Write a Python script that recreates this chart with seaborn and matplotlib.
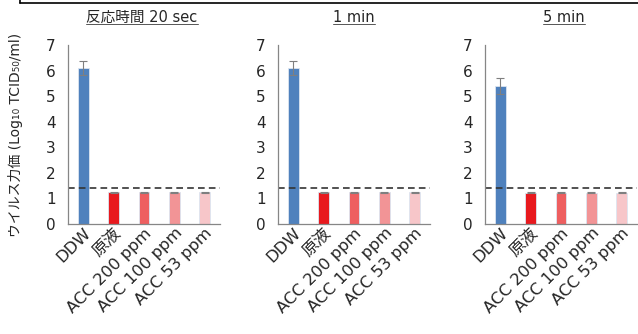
import numpy as np
import pandas as pd
import matplotlib
matplotlib.use("Agg")
import matplotlib.pyplot as plt
import seaborn as sns
from matplotlib.lines import Line2D

# data
categories = ["DDW", "原液", "ACC 200 ppm", "ACC 100 ppm", "ACC 53 ppm"]
titles = ["反応時間 20 sec", "1 min", "5 min"]
values_20sec = [6.1, 1.25, 1.25, 1.25, 1.25]
values_1min = [6.1, 1.25, 1.25, 1.25, 1.25]
values_5min = [5.4, 1.23, 1.23, 1.23, 1.23]
errors_20sec = [0.28, 0.02, 0.02, 0.02, 0.02]
errors_1min = [0.28, 0.02, 0.02, 0.02, 0.02]
errors_5min = [0.30, 0.02, 0.02, 0.02, 0.02]
detection_limit = 1.42
bar_colors = ["#4F81BD", "#E8191E", "#EE5F60", "#F29496", "#F7C6C9"]

sns.set_style("white")
plt.rcParams["font.family"] = ["DejaVu Sans", "Noto Sans CJK JP"]

fig = plt.figure(figsize=(6.38, 3.34), dpi=100)
lefts = [68 / 638, 278 / 638, 485 / 638]
all_values = [values_20sec, values_1min, values_5min]
all_errors = [errors_20sec, errors_1min, errors_5min]
axes = []
for i in range(3):
    ax = fig.add_axes([lefts[i], 1 - 224 / 334, 152 / 638, (224 - 45) / 334])
    df = pd.DataFrame({"cat": categories, "val": all_values[i]})
    sns.barplot(data=df, x="cat", y="val", hue="cat", palette=bar_colors, saturation=1,
                width=0.36, ax=ax, legend=False, edgecolor="#dbe5f1", linewidth=0.6)
    ax.errorbar(np.arange(len(categories)), all_values[i], yerr=all_errors[i],
                fmt="none", ecolor="#7f7f7f", elinewidth=0.8, capsize=3, capthick=0.8)
    ax.axhline(detection_limit, color="#333333", linestyle=(0, (4, 2.5)), linewidth=1.2)
    ax.set_ylim(0, 7)
    ax.set_xlim(-0.5, 4.5)
    ax.set_yticks(range(8))
    ax.set_xlabel("")
    ax.set_ylabel("")
    ax.tick_params(axis="y", labelsize=11, length=3, width=0.8, color="#868686", pad=6)
    ax.tick_params(axis="x", labelsize=11.8, length=0, pad=1)
    ax.set_xticks(range(len(categories)))
    ax.set_xticklabels(categories, rotation=45, ha="right", rotation_mode="anchor")
    for s in ["top", "right"]:
        ax.spines[s].set_visible(False)
    for s in ["left", "bottom"]:
        ax.spines[s].set_color("#868686")
        ax.spines[s].set_linewidth(0.9)
    axes.append(ax)

fig.text(0.024, 0.595, "ウイルス力価 (Log₁₀ TCID₅₀/ml)", rotation=90,
         ha="center", va="center", fontsize=10)

# underlined panel titles
title_x = [142 / 638, 354 / 638, 564 / 638]
fig.canvas.draw()
renderer = fig.canvas.get_renderer()
for i in range(3):
    t = fig.text(title_x[i], 1 - 17 / 334, titles[i], ha="center", va="center", fontsize=10.5)
    bb = t.get_window_extent(renderer).transformed(fig.transFigure.inverted())
    fig.add_artist(Line2D([bb.x0, bb.x1], [bb.y0 + 0.002, bb.y0 + 0.002],
                          transform=fig.transFigure, color="#555555", linewidth=0.7))

# frame border at top
fig.add_artist(Line2D([20 / 638, 1], [1 - 3 / 334, 1 - 3 / 334],
                      transform=fig.transFigure, color="black", linewidth=1.2))
fig.add_artist(Line2D([20 / 638, 20 / 638], [1 - 3 / 334, 1],
                      transform=fig.transFigure, color="black", linewidth=1.2))

fig.savefig("out.png", dpi=100)
